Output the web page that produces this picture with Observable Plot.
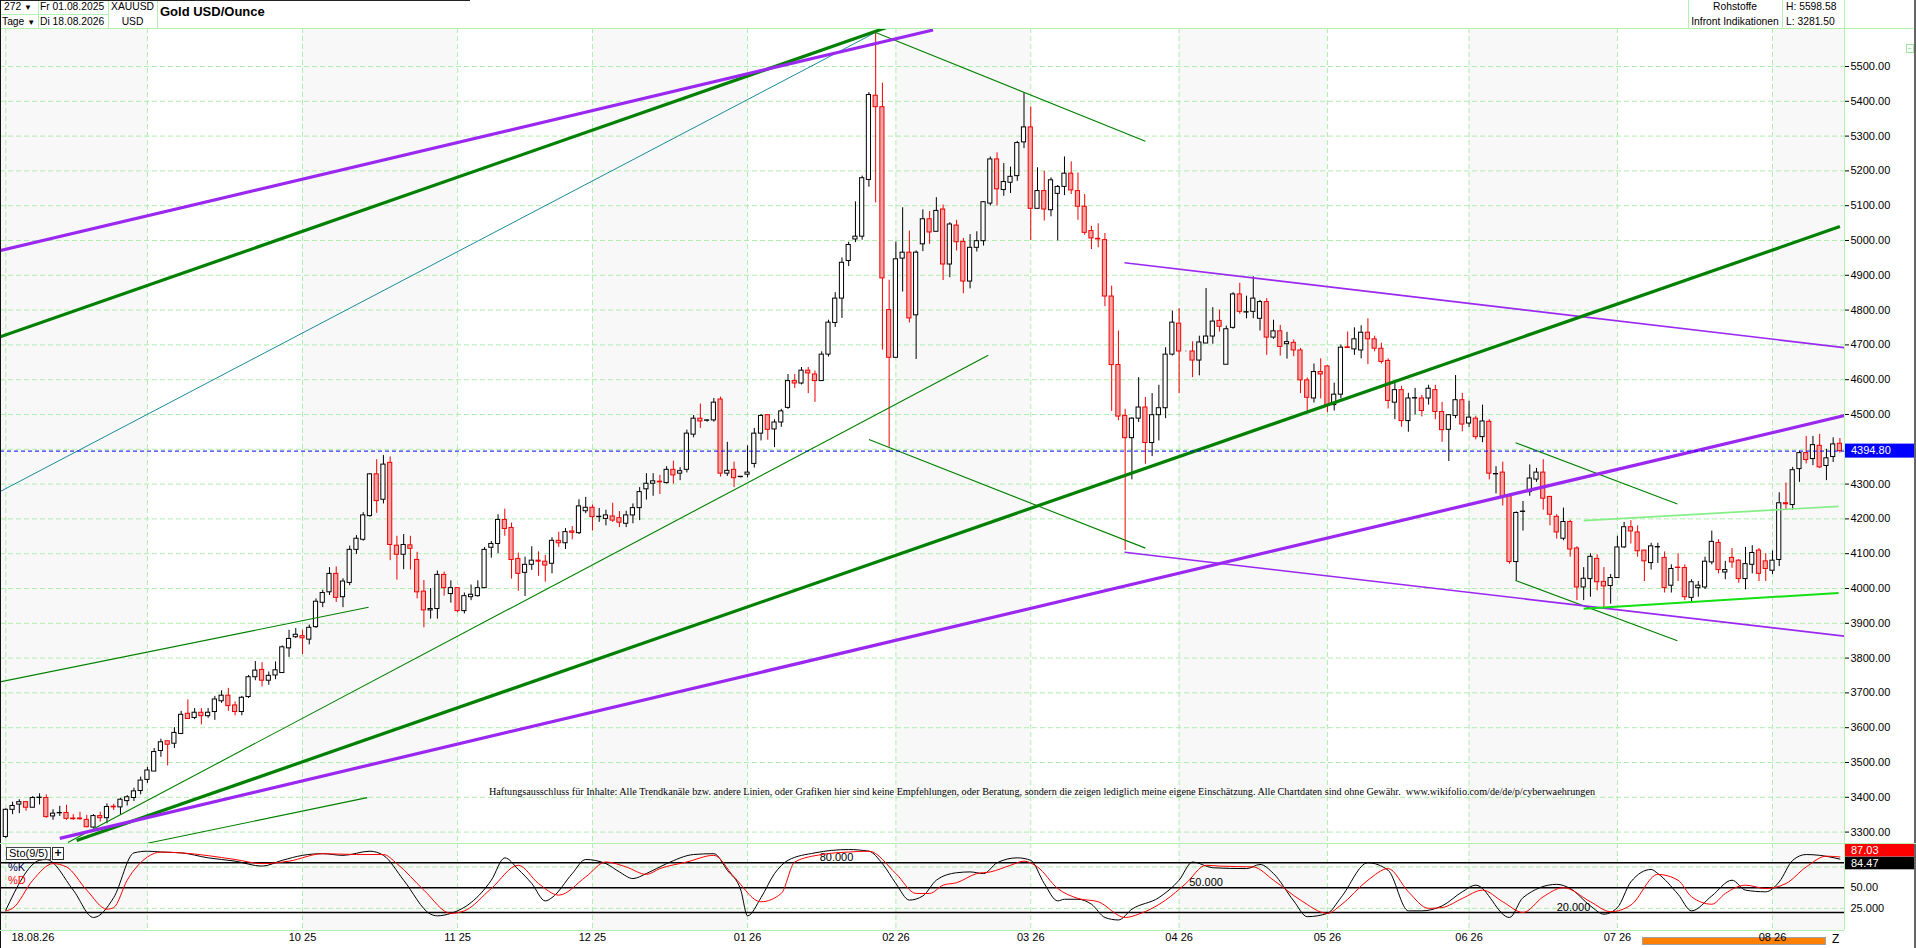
<!DOCTYPE html>
<html lang="de">
<head>
<meta charset="utf-8">
<title>Gold USD/Ounce</title>
<script src="https://cdn.jsdelivr.net/npm/d3@7"></script>
<script src="https://cdn.jsdelivr.net/npm/@observablehq/plot@0.6"></script>
<style>
html,body{margin:0;padding:0;background:#fff;overflow:hidden;}
#wrap{position:relative;width:1916px;height:948px;overflow:hidden;font-family:"Liberation Sans",Arial,sans-serif;font-size:11px;color:#000;background:#fff;}
.abs{position:absolute;white-space:nowrap;line-height:14px;}
.hd{font-size:10.3px;}
.vl{position:absolute;width:1px;background:#b4efb4;}
.hl{position:absolute;height:1px;background:#b4efb4;}
#price{position:absolute;left:0;top:28px;}
#stoch{position:absolute;left:0;top:843px;}
</style>
</head>
<body>
<div id="wrap">
  <div style="position:absolute;left:1642px;top:937px;width:182px;height:6px;background:#ff8000;border:1px solid #a0a0a0;"></div>
  <div id="price"></div>
  <div id="stoch"></div>

  <!-- header -->
  <div class="hl" style="left:0;top:28px;width:1916px;"></div>
  <div class="hl" style="left:0;top:14px;width:108px;"></div>
  <div class="vl" style="left:38px;top:0;height:28px;"></div>
  <div class="vl" style="left:108px;top:0;height:28px;"></div>
  <div class="vl" style="left:157px;top:0;height:28px;"></div>
  <div class="vl" style="left:1688px;top:0;height:28px;"></div>
  <div class="vl" style="left:1782px;top:0;height:28px;"></div>
  <div class="vl" style="left:1844px;top:0;height:930px;"></div>
  <div style="position:absolute;left:0;top:0;width:470px;height:1px;background:#222;"></div>
  <div style="position:absolute;left:0;top:0;width:1px;height:948px;background:#111;"></div>
  <div style="position:absolute;left:1914px;top:0;width:2px;height:948px;background:#666;"></div>

  <div class="abs hd" style="left:4px;top:0;">272 <span style="font-size:8px;">&#9660;</span></div>
  <div class="abs hd" style="left:2px;top:15px;">Tage <span style="font-size:8px;">&#9660;</span></div>
  <div class="abs hd" style="left:40px;top:0;">Fr 01.08.2025</div>
  <div class="abs hd" style="left:40px;top:15px;">Di 18.08.2026</div>
  <div class="abs hd" style="left:108px;top:0;width:49px;text-align:center;">XAUUSD</div>
  <div class="abs hd" style="left:108px;top:15px;width:49px;text-align:center;">USD</div>
  <div class="abs" style="left:160px;top:3px;font-size:13px;font-weight:bold;line-height:17px;">Gold USD/Ounce</div>
  <div class="abs hd" style="left:1688px;top:0;width:94px;text-align:center;">Rohstoffe</div>
  <div class="abs hd" style="left:1688px;top:15px;width:94px;text-align:center;">Infront Indikationen</div>
  <div class="abs hd" style="left:1786px;top:0;">H: 5598.58</div>
  <div class="abs hd" style="left:1786px;top:15px;">L: 3281.50</div>
  <div style="position:absolute;left:1906px;top:44px;width:6px;height:7px;border:1px solid #9fe59f;"></div>
  <div style="position:absolute;left:1908px;top:48px;width:3px;height:1px;background:#9fe59f;"></div>

  <!-- stochastic panel decorations -->
  <div class="hl" style="left:0;top:843px;width:1916px;"></div>
  <div class="hl" style="left:0;top:930px;width:1844px;"></div>
  <div class="abs" style="left:6px;top:847px;border:1px solid #444;background:#fff;padding:0 2px;line-height:11px;">Sto(9/5)</div>
  <div class="abs" style="left:52px;top:847px;width:10px;height:11px;border:1px solid #333;background:#fff;text-align:center;line-height:11px;font-weight:bold;font-size:12px;">+</div>
  <div class="abs" style="left:8px;top:860px;color:#000050;">%K</div>
  <div class="abs" style="left:8px;top:873px;color:#ff0000;">%D</div>
  <div class="abs" style="left:1832px;top:932px;font-size:12px;">Z</div>
</div>

<script>
// ---------------- DATA ----------------
const OPEN = [
3286,3364,3379,3386,3370,3398,3398,3345,3354,3355,
3339,3339,3335,3313,3346,3340,3373,3371,3389,3398,
3418,3450,3474,3533,3561,3554,3582,3640,3628,3643,
3633,3645,3676,3692,3664,3645,3688,3745,3766,3735,
3750,3757,3828,3860,3863,3853,3889,3959,3989,4042,
3975,4016,4111,4140,4208,4328,4255,4361,4123,4097,
4124,4082,3991,3937,3941,4039,3984,4001,3935,3975,
3978,4001,4117,4128,4197,4174,4085,4045,4068,4080,
4077,4071,4137,4130,4164,4159,4222,4232,4205,4200,
4207,4202,4186,4210,4231,4285,4301,4307,4303,4341,
4330,4341,4442,4488,4482,4483,4543,4330,4341,4320,
4327,4358,4445,4498,4457,4477,4519,4596,4589,4626,
4615,4596,4672,4763,4833,4941,5003,5011,5174,5416,
5383,4800,4663,4948,4965,4785,4989,5061,5025,5089,
4931,5043,4996,4882,4979,4998,5106,5233,5145,5166,
5185,5282,5325,5091,5142,5087,5134,5154,5192,5142,
5097,5027,5005,5001,4839,4642,4496,4432,4488,4520,
4418,4498,4518,4672,4761,4681,4681,4655,4704,4724,
4769,4643,4749,4845,4793,4795,4775,4823,4721,4739,
4702,4706,4684,4598,4546,4622,4638,4527,4557,4693,
4687,4684,4735,4716,4689,4654,4534,4570,4481,4546,
4546,4546,4570,4507,4456,4496,4541,4474,4488,4435,
4479,4328,4333,4265,4076,4220,4277,4313,4333,4263,
4206,4143,4191,4115,4003,4027,4085,4019,4007,4030,
4118,4176,4161,4109,4073,4118,4088,4008,4060,4059,
3973,4001,4003,4075,4131,4046,4088,4080,4027,4068,
4109,4078,4051,4082,4245,4240,4343,4389,4372,4410,
4352,4378,4416];

const HIGH = [
3367,3386,3393,3386,3402,3410,3407,3364,3374,3377,
3350,3357,3348,3350,3357,3381,3380,3397,3405,3426,
3458,3486,3540,3567,3561,3600,3647,3680,3655,3655,
3655,3690,3706,3713,3674,3690,3750,3790,3787,3760,
3789,3835,3880,3885,3880,3895,3970,3995,4060,4062,
4028,4122,4152,4218,4330,4370,4382,4378,4150,4155,
4150,4104,4023,4000,4050,4047,4022,4001,3987,4010,
4022,4118,4135,4212,4228,4188,4102,4090,4120,4105,
4095,4146,4162,4172,4178,4255,4262,4240,4230,4225,
4245,4221,4222,4243,4290,4330,4330,4325,4350,4366,
4347,4455,4497,4530,4485,4546,4550,4420,4363,4322,
4410,4460,4500,4500,4485,4515,4615,4615,4635,4635,
4625,4680,4771,4850,4950,4995,5111,5185,5425,5598.58,
5452,4886,4996,5094,5027,4970,5088,5083,5123,5102,
5051,5058,5006,5017,5025,5112,5240,5252,5221,5211,
5285,5424,5384,5209,5199,5180,5158,5240,5226,5194,
5132,5041,5048,5020,4869,4740,4515,4491,4606,4549,
4560,4584,4692,4797,4804,4682,4709,4725,4862,4807,
4800,4754,4850,4877,4840,4896,4828,4833,4771,4756,
4736,4714,4690,4605,4645,4660,4640,4590,4700,4737,
4749,4755,4775,4725,4705,4660,4590,4581,4561,4575,
4555,4584,4584,4535,4500,4612,4561,4538,4495,4527,
4485,4350,4363,4270,4220,4250,4355,4345,4370,4265,
4212,4231,4196,4120,4060,4100,4097,4060,4040,4150,
4190,4195,4180,4110,4130,4130,4105,4068,4100,4068,
4025,4020,4090,4165,4140,4078,4115,4083,4118,4123,
4115,4100,4108,4275,4303,4348,4395,4437,4437,4443,
4400,4433,4431];

const LOW = [
3281.5,3350,3353,3360,3370,3378,3340,3334,3345,3334,
3334,3334,3312,3311,3329,3324,3362,3350,3375,3388,
3407,3440,3474,3515,3490,3540,3580,3625,3623,3608,
3627,3621,3670,3647,3634,3634,3684,3735,3717,3722,
3738,3757,3802,3856,3810,3838,3885,3945,3980,3960,
3945,4008,4098,4136,4205,4216,4243,4080,4024,4054,
4053,3970,3887,3912,3912,3978,3958,3930,3927,3965,
3975,4001,4087,4100,4150,4027,3992,3977,4052,4035,
4018,4042,4118,4112,4140,4155,4215,4165,4190,4180,
4190,4175,4175,4186,4195,4254,4265,4270,4300,4300,
4310,4332,4433,4460,4478,4478,4320,4322,4290,4318,
4318,4346,4424,4426,4405,4463,4515,4575,4585,4560,
4535,4596,4665,4750,4776,4925,4994,5001,5153,5108,
4685,4406,4663,4852,4763,4658,4968,4989,5025,4885,
4893,4970,4847,4861,4967,4984,5099,5099,5127,5135,
5170,5264,5000,5091,5056,5068,4999,5129,5132,5058,
5015,4974,4979,4810,4509,4482,4109,4312,4477,4357,
4379,4424,4488,4668,4560,4680,4606,4611,4704,4702,
4737,4643,4745,4788,4775,4775,4740,4670,4716,4668,
4659,4666,4560,4508,4533,4545,4505,4510,4545,4690,
4670,4660,4643,4680,4645,4516,4485,4463,4449,4498,
4493,4527,4485,4420,4365,4488,4450,4462,4427,4419,
4312,4272,4237,4070,4020,4165,4265,4305,4225,4180,
4142,4137,4090,3965,3965,3975,3993,3940,3955,4030,
4115,4128,4090,4020,4053,4072,3987,3987,4020,3965,
3960,3975,3997,4068,4042,4025,4058,4015,3996,4042,
4020,4020,4040,4063,4225,4225,4305,4358,4353,4345,
4310,4362,4389];

const CLOSE = [
3364,3375,3386,3370,3398,3399,3343,3353,3355,3338,
3337,3337,3314,3346,3340,3372,3371,3393,3400,3417,
3448,3477,3530,3558,3551,3585,3637,3625,3643,3633,
3643,3681,3692,3662,3645,3686,3745,3764,3735,3749,
3765,3831,3855,3867,3857,3887,3962,3987,4042,3973,
4020,4111,4143,4210,4328,4251,4356,4125,4097,4125,
4114,3989,3937,3941,4039,4001,4001,3935,3978,3982,
4001,4111,4128,4197,4171,4082,4042,4068,4080,4077,
4066,4137,4130,4162,4160,4236,4232,4205,4206,4210,
4195,4189,4210,4231,4277,4301,4308,4305,4341,4325,
4337,4445,4488,4480,4483,4534,4330,4338,4317,4321,
4333,4445,4496,4456,4477,4509,4596,4589,4626,4618,
4596,4672,4764,4833,4936,4987,5011,5179,5418,5383,
4891,4663,4946,4965,4776,4965,5061,5023,5085,4931,
5046,4995,4882,4979,4998,5110,5233,5147,5168,5183,
5280,5325,5091,5142,5089,5173,5154,5192,5144,5097,
5022,5006,5003,4839,4642,4494,4432,4488,4520,4418,
4498,4518,4672,4764,4681,4681,4655,4707,4724,4767,
4752,4745,4845,4795,4794,4833,4823,4721,4739,4694,
4708,4684,4598,4548,4622,4615,4525,4557,4692,4691,
4716,4735,4716,4689,4651,4539,4570,4481,4546,4547,
4510,4574,4507,4455,4498,4541,4471,4491,4435,4480,
4330,4329,4263,4076,4217,4221,4316,4333,4258,4212,
4161,4191,4112,4003,4028,4091,4018,4006,4030,4118,
4176,4164,4107,4078,4121,4119,4001,4056,4059,3975,
4018,4008,4077,4134,4053,4053,4075,4027,4070,4102,
4042,4056,4080,4245,4242,4340,4389,4369,4412,4348,
4374,4414,4394.8];

const LAST_PRICE = 4394.80;

// price gridlines and the labelled axis ticks (4400 is hidden behind the last-price box)
const PRICE_GRID = [3300,3400,3500,3600,3700,3800,3900,4000,4100,4200,4300,4400,4500,4600,4700,4800,4900,5000,5100,5200,5300,5400,5500];
const PRICE_LABELS = [3300,3400,3500,3600,3700,3800,3900,4000,4100,4200,4300,4500,4600,4700,4800,4900,5000,5100,5200,5300,5400,5500];

// month gridlines (bar index of first bar of each month) and labels
const MONTH_TICKS  = [0, 21, 44, 67, 87, 110, 132, 152, 174, 196, 217, 239, 262];
const MONTH_LABELS = ["", "", "10 25", "11 25", "12 25", "01 26", "02 26", "03 26", "04 26", "05 26", "06 26", "07 26", "08 26"];
const START_LABEL = "18.08.26";

// drawn trend lines (bar index, price)
const TRENDLINES = [
  {kind: "purple-thick", x1: -1,    y1: 4970, x2: 137.5, y2: 5605},
  {kind: "green-thick",  x1: -1,    y1: 4722, x2: 130.6, y2: 5612},
  {kind: "teal",         x1: -1,    y1: 4277, x2: 129,   y2: 5598},
  {kind: "green-thick",  x1: 10.5,  y1: 3276, x2: 272,   y2: 5040},
  {kind: "purple-thick", x1: 8,     y1: 3282, x2: 272.7, y2: 4497},
  {kind: "green-thin",   x1: 21,    y1: 3268, x2: 53.6,  y2: 3399},
  {kind: "green-thin",   x1: -1,    y1: 3731, x2: 53.8,  y2: 3946},
  {kind: "green-thin",   x1: 9.2,   y1: 3270, x2: 145.7, y2: 4670},
  {kind: "green-thin",   x1: 129,   y1: 5598, x2: 169,   y2: 5285},
  {kind: "green-thin",   x1: 128,   y1: 4428, x2: 169,   y2: 4116},
  {kind: "purple-thin",  x1: 165.9, y1: 4936, x2: 272.7, y2: 4692},
  {kind: "purple-thin",  x1: 165.9, y1: 4104, x2: 272.7, y2: 3863},
  {kind: "green-thin",   x1: 223.9, y1: 4419, x2: 247.9, y2: 4243},
  {kind: "green-thin",   x1: 223.9, y1: 4023, x2: 247.9, y2: 3850},
  {kind: "lime-light",   x1: 234,   y1: 4195, x2: 271.8, y2: 4236},
  {kind: "lime-bright",  x1: 234,   y1: 3942, x2: 271.8, y2: 3987}
];

// Stochastic (9/5): [bar index, value]
const STO_K = [
[0,23],[5,83],[6,84],[10,47],[13,14],[16,38],[19,92],[21,94],[23,93],[26,92],[30,86],[34,82],[38,76],[41,83],[44,89],[47,91],[50,89],[54,94],[56,89],[59,59],[63,18],[64,16],[66,19],[69,32],[72,59],[74,86],[76,72],[78,55],[80,34],[81,38],[84,67],[86,84],[89,79],[91,69],[93,61],[95,67],[98,79],[102,90],[105,91],[107,71],[109,47],[110,16],[112,38],[114,67],[116,83],[120,92],[125,96],[128,94],[130,79],[132,55],[134,35],[136,40],[138,59],[141,68],[143,69],[145,67],[147,80],[150,86],[152,83],[154,55],[156,34],[157,36],[159,36],[161,30],[163,14],[165,11],[167,24],[171,38],[174,59],[176,81],[179,74],[184,73],[186,78],[188,67],[191,34],[193,15],[196,19],[198,38],[202,80],[205,71],[208,22],[210,22],[213,28],[216,45],[218,53],[223,14],[225,38],[230,54],[232,49],[235,28],[237,18],[239,26],[241,57],[244,72],[245,67],[248,42],[250,22],[253,40],[256,59],[258,47],[261,45],[263,57],[265,83],[267,90],[269,89],[272,84.47]
];
const STO_D = [
[0,22],[1,25],[4,59],[7,79],[9,75],[12,47],[15,24],[16,26],[18,59],[21,87],[23,93],[26,92],[34,84],[38,79],[42,82],[47,91],[52,90],[56,90],[58,79],[62,47],[66,19],[68,22],[72,49],[76,77],[79,55],[82,41],[86,63],[89,81],[92,75],[95,66],[97,73],[101,81],[105,89],[108,63],[112,33],[115,43],[117,81],[121,90],[125,93],[128,94],[132,67],[135,43],[137,43],[139,53],[141,56],[144,67],[146,69],[149,77],[151,82],[153,75],[156,49],[159,37],[162,33],[166,14],[168,18],[172,35],[175,55],[178,77],[180,76],[185,75],[188,59],[192,35],[196,19],[198,29],[202,59],[205,73],[208,45],[211,25],[213,26],[216,37],[219,47],[222,33],[225,20],[228,39],[231,50],[235,33],[238,21],[241,29],[245,66],[248,59],[250,39],[253,30],[255,43],[258,53],[261,49],[264,55],[267,75],[270,88],[272,87.03]
];
const STO_LEVELS = [80, 50, 20];
const STO_GRID = [25, 75];
const STO_AXIS_TICKS = [50, 25];
const STO_AXIS_LABELS = ["50.00", "25.000"];
const STO_LEVEL_LABELS = [
  {bar: 120.7, level: 80, text: "80.000"},
  {bar: 175.5, level: 50, text: "50.000"},
  {bar: 230.0, level: 20, text: "20.000"}
];

const DISCLAIMER = "Haftungsausschluss für Inhalte: Alle Trendkanäle bzw. andere Linien, oder Grafiken hier sind keine Empfehlungen, oder Beratung, sondern die zeigen lediglich meine eigene Einschätzung. Alle Chartdaten sind ohne Gewähr.  www.wikifolio.com/de/de/p/cyberwaehrungen";

// ---------------- LAYOUT / STYLE ----------------
const FONT = '"Liberation Sans", Arial, Helvetica, sans-serif';
const GRID = "#aeeeae";
const DASH = "5,3";
const X_DOMAIN = [-0.79, 272.68];
const P_DOMAIN = [3267.2, 5609.2];
const S_DOMAIN = [-1.7, 103.3];
const BODY_HALF = 0.31;

const TREND_STYLE = {
  "teal":         {stroke: "#1a8c9c", strokeWidth: 1},
  "green-thin":   {stroke: "#008000", strokeWidth: 1.1},
  "purple-thin":  {stroke: "#9a28f0", strokeWidth: 1.6},
  "lime-light":   {stroke: "#86ee86", strokeWidth: 1.6},
  "lime-bright":  {stroke: "#11e011", strokeWidth: 2},
  "green-thick":  {stroke: "#008000", strokeWidth: 3.2},
  "purple-thick": {stroke: "#9a28f0", strokeWidth: 3.2}
};

const bars = OPEN.map((o, i) => ({i, o, h: HIGH[i], l: LOW[i], c: CLOSE[i], up: CLOSE[i] >= o}));
const upBars = bars.filter(d => d.up);
const dnBars = bars.filter(d => !d.up);

// alternating month shading
const edges = [X_DOMAIN[0], ...MONTH_TICKS.slice(1), X_DOMAIN[1]];
const bands = [];
for (let k = 0; k < edges.length - 1; k += 2) bands.push({x1: edges[k], x2: edges[k + 1]});

const monthLabelData = MONTH_TICKS.map((t, k) => ({i: t, label: MONTH_LABELS[k]})).filter(d => d.label);

const trendMarks = Object.entries(TREND_STYLE).map(([kind, st]) =>
  Plot.link(TRENDLINES.filter(d => d.kind === kind), {x1: "x1", y1: "y1", x2: "x2", y2: "y2", ...st, clip: true})
);

// ---------------- PRICE PANEL ----------------
const priceChart = Plot.plot({
  width: 1916, height: 815,
  marginLeft: 0, marginRight: 72, marginTop: 0, marginBottom: 0,
  style: {fontFamily: FONT, fontSize: "11px", background: "transparent", color: "#000"},
  x: {domain: X_DOMAIN, axis: null},
  y: {domain: P_DOMAIN, label: null},
  marks: [
    Plot.rect(bands, {x1: "x1", x2: "x2", y1: P_DOMAIN[0], y2: P_DOMAIN[1], fill: "#f8f8f8"}),
    Plot.ruleY(PRICE_GRID, {stroke: GRID, strokeDasharray: DASH}),
    Plot.ruleX(MONTH_TICKS, {stroke: GRID, strokeDasharray: DASH}),
    Plot.ruleX(upBars, {x: "i", y1: "l", y2: "h", stroke: "#000", strokeWidth: 1}),
    Plot.ruleX(dnBars, {x: "i", y1: "l", y2: "h", stroke: "#ee0000", strokeWidth: 1}),
    Plot.rect(upBars, {x1: d => d.i - BODY_HALF, x2: d => d.i + BODY_HALF, y1: "o", y2: "c", fill: "#fff", stroke: "#000", strokeWidth: 1}),
    Plot.rect(dnBars, {x1: d => d.i - BODY_HALF, x2: d => d.i + BODY_HALF, y1: "o", y2: "c", fill: "#f5a3a3", stroke: "#ee0000", strokeWidth: 1}),
    ...trendMarks,
    Plot.ruleY([LAST_PRICE], {stroke: "#0000ff", strokeDasharray: "4,3", strokeWidth: 1}),
    Plot.axisY(PRICE_LABELS, {anchor: "right", tickSize: 4, tickPadding: 2, tickFormat: d => d.toFixed(2), fontSize: 11, label: null})
  ]
});
document.getElementById("price").appendChild(priceChart);

{
  const svg = d3.select(priceChart);
  const py = priceChart.scale("y").apply(LAST_PRICE);
  const g = svg.append("g").attr("text-anchor", "start");
  g.append("rect").attr("x", 1845).attr("y", py - 7).attr("width", 71).attr("height", 14).attr("fill", "#0000ff");
  g.append("text").attr("x", 1851).attr("y", py).attr("dy", "0.35em").attr("fill", "#fff")
    .attr("text-anchor", "start").attr("font-size", 11).attr("font-family", FONT).text(LAST_PRICE.toFixed(2));
  svg.append("text").attr("x", 489).attr("y", 763).attr("dy", "0.35em").attr("text-anchor", "start")
    .attr("font-family", '"Liberation Serif", "DejaVu Serif", serif').attr("font-size", 10.5)
    .attr("fill", "#000").attr("textLength", 1106).attr("lengthAdjust", "spacingAndGlyphs")
    .text(DISCLAIMER);
}

// ---------------- STOCHASTIC PANEL ----------------
const stochChart = Plot.plot({
  width: 1916, height: 105,
  marginLeft: 0, marginRight: 72, marginTop: 0, marginBottom: 18,
  style: {fontFamily: FONT, fontSize: "11px", background: "transparent", color: "#000"},
  x: {domain: X_DOMAIN, axis: null},
  y: {domain: S_DOMAIN, label: null},
  marks: [
    Plot.rect(bands, {x1: "x1", x2: "x2", y1: S_DOMAIN[0], y2: S_DOMAIN[1], fill: "#f8f8f8"}),
    Plot.ruleY(STO_GRID, {stroke: GRID, strokeDasharray: DASH}),
    Plot.ruleX(MONTH_TICKS, {stroke: GRID, strokeDasharray: DASH}),
    Plot.ruleY(STO_LEVELS, {stroke: "#000", strokeWidth: 1.5}),
    Plot.text(STO_LEVEL_LABELS, {x: "bar", y: "level", text: "text", textAnchor: "start", dy: -5.5, fontSize: 11, fill: "#000"}),
    Plot.line(STO_K, {x: d => d[0], y: d => d[1], stroke: "#000", strokeWidth: 1, curve: "monotone-x"}),
    Plot.line(STO_D, {x: d => d[0], y: d => d[1], stroke: "#ff0000", strokeWidth: 1, curve: "monotone-x"}),
    Plot.axisY(STO_AXIS_TICKS, {anchor: "right", tickSize: 0, tickPadding: 6, fontSize: 11, label: null,
      tickFormat: d => STO_AXIS_LABELS[STO_AXIS_TICKS.indexOf(d)]}),
    Plot.text(monthLabelData, {x: "i", text: "label", frameAnchor: "bottom", dy: 10, fontSize: 11, fill: "#000"}),
    Plot.text([START_LABEL], {frameAnchor: "bottom-left", dx: 11, dy: 10, textAnchor: "start", fontSize: 11, fill: "#000"})
  ]
});
document.getElementById("stoch").appendChild(stochChart);

{
  const svg = d3.select(stochChart);
  const sy = stochChart.scale("y");
  const kLast = STO_K[STO_K.length - 1][1];
  const dLast = STO_D[STO_D.length - 1][1];
  const dy = sy.apply(dLast) - 6.5;
  const ky = sy.apply(kLast) + 4.4;
  const g = svg.append("g").attr("font-family", FONT).attr("font-size", 11).attr("text-anchor", "start");
  g.append("rect").attr("x", 1845).attr("y", dy - 6).attr("width", 71).attr("height", 12.5).attr("fill", "#ff0000");
  g.append("text").attr("x", 1851).attr("y", dy).attr("dy", "0.35em").attr("fill", "#fff").attr("text-anchor", "start").text(dLast.toFixed(2));
  g.append("rect").attr("x", 1845).attr("y", ky - 6.3).attr("width", 71).attr("height", 12.6).attr("fill", "#000");
  g.append("text").attr("x", 1851).attr("y", ky).attr("dy", "0.35em").attr("fill", "#fff").attr("text-anchor", "start").text(kLast.toFixed(2));
}
</script>
</body>
</html>
